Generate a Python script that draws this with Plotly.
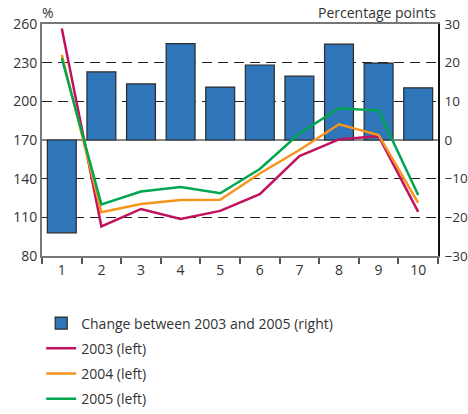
import plotly.graph_objects as go

categories = ['1', '2', '3', '4', '5', '6', '7', '8', '9', '10']

change_03_05 = [-24.0, 17.6, 14.5, 24.9, 13.7, 19.4, 16.5, 24.8, 19.9, 13.5]
y2003 = [256.5, 103.0, 116.5, 108.7, 115.0, 128.0, 157.6, 170.5, 173.0, 114.2]
y2004 = [236.0, 114.0, 120.4, 123.5, 123.7, 144.0, 162.2, 182.2, 173.9, 121.2]
y2005 = [233.4, 120.0, 130.0, 133.5, 128.7, 147.5, 175.0, 194.7, 192.8, 127.3]

FONT = 'Open Sans'
TXT = '#333333'

fig = go.Figure()

fig.add_trace(go.Bar(
    x=categories, y=change_03_05, name='Change between 2003 and 2005 (right)',
    marker=dict(color='#2e75ba', line=dict(color='#2a2a2a', width=1.2)),
    yaxis='y', legendgroup='a'))

for vals, name, col in [(y2003, '2003 (left)', '#c0135f'),
                        (y2004, '2004 (left)', '#f7941d'),
                        (y2005, '2005 (left)', '#00a650')]:
    fig.add_trace(go.Scatter(
        x=categories, y=vals, name=name, mode='lines',
        line=dict(color=col, width=2.5), yaxis='y2', legendgroup=name))

fig.update_layout(
    width=468, height=414,
    margin=dict(l=42, r=30, t=24, b=158, autoexpand=False),
    paper_bgcolor='white', plot_bgcolor='white',
    font=dict(family=FONT, size=14, color=TXT),
    bargap=0.27,
    showlegend=True,
    legend=dict(x=-0.002, y=-0.222, xanchor='left', yanchor='top',
                orientation='v', font=dict(size=14, color=TXT),
                tracegroupgap=4, itemwidth=30),
    xaxis=dict(type='category', showline=True, linecolor='#777777', linewidth=2,
               mirror=True, ticks='outside', tickson='boundaries', ticklen=6,
               tickcolor='#555555', tickwidth=1.5, showgrid=False,
               automargin=False, tickfont=dict(size=14, color=TXT)),
    yaxis=dict(side='right', range=[-30, 30], dtick=10, showline=True,
               linecolor='#111111', linewidth=1.5, showgrid=True,
               gridcolor='#222222', griddash='10px,6px', gridwidth=1,
               zeroline=True, zerolinecolor='#888888', zerolinewidth=2,
               ticks='', ticklabelstandoff=2, automargin=False,
               tickfont=dict(size=13.5, color=TXT)),
    yaxis2=dict(side='left', overlaying='y', range=[80, 260], tick0=80, dtick=30,
                showline=True, linecolor='#777777', linewidth=2,
                showgrid=False, zeroline=False, ticks='', automargin=False,
                tickfont=dict(size=14, color=TXT)),
    annotations=[
        dict(text='%', x=0, y=1, xref='paper', yref='paper', xanchor='left',
             yanchor='bottom', xshift=-2, yshift=0, showarrow=False,
             font=dict(size=14, color=TXT)),
        dict(text='Percentage points', x=1, y=1, xref='paper', yref='paper',
             xanchor='right', yanchor='bottom', yshift=0, showarrow=False,
             font=dict(size=14, color=TXT)),
    ],
)

# drop the default 8px body margin so the figure fills the window
fig.write_html('out.html', config={'displayModeBar': False},
               post_script="document.body.style.margin = '0';")
